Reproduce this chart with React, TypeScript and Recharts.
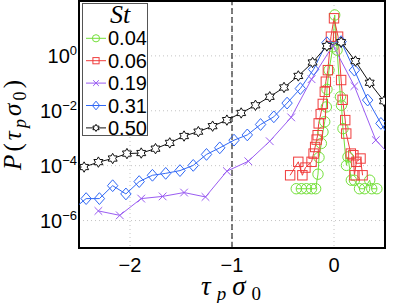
import React from 'react';
import {
  LineChart,
  Line,
  XAxis,
  YAxis,
  CartesianGrid,
  ReferenceLine,
  ReferenceArea,
  Legend
} from 'recharts';

// values as log10 P
const st004X = [-0.37, -0.32, -0.27, -0.22, -0.18, -0.157, -0.147, -0.124, -0.108, -0.091, -0.075, -0.069, -0.049, -0.01, 0.007, 0.03, 0.063, 0.073, 0.088, 0.122, 0.137, 0.17, 0.2, 0.25, 0.3, 0.35, 0.37, 0.42];
const st004Log = [-4.84, -4.84, -4.84, -4.84, -4.84, -4.31, -3.7, -3.19, -2.77, -2.4, -1.86, -1.22, -0.52, 0.33, 1.49, 0.21, -1.49, -1.8, -2.65, -3.99, -3.68, -4.53, -4.53, -4.84, -4.84, -4.53, -4.84, -4.84];

const st006X = [-0.43, -0.35, -0.31, -0.28, -0.22, -0.2, -0.185, -0.17, -0.16, -0.15, -0.13, -0.11, -0.09, -0.08, -0.06, -0.03, 0.0, 0.04, 0.07, 0.085, 0.11, 0.12, 0.165, 0.19, 0.2, 0.22, 0.26, 0.28];
const st006Log = [-4.35, -3.86, -4.35, -4.07, -3.86, -3.56, -3.32, -3.05, -2.89, -2.46, -2.12, -1.75, -1.31, -0.94, -0.52, 0.7, 1.37, 0.7, -0.88, -1.6, -2.34, -2.83, -3.56, -3.62, -4.35, -3.86, -3.74, -4.35];

const st019X = [-2.31, -2.1, -1.89, -1.68, -1.47, -1.26, -1.05, -0.84, -0.63, -0.42, -0.22, -0.01, 0.2, 0.41, 0.62];
const st019Log = [-5.65, -5.81, -5.2, -5.12, -4.98, -5.14, -4.2, -3.84, -3.11, -2.24, -0.85, 0.38, -1.1, -3.07, -3.9];

const st031X = [-2.56, -2.43, -2.3, -2.17, -2.04, -1.91, -1.78, -1.65, -1.51, -1.38, -1.25, -1.12, -0.98, -0.85, -0.72, -0.59, -0.46, -0.33, -0.2, -0.07, 0.07, 0.2, 0.33, 0.46, 0.59];
const st031Log = [-5.6, -5.2, -5.2, -4.73, -5.03, -4.58, -4.35, -4.28, -4.18, -3.99, -3.59, -3.35, -3.07, -2.88, -2.5, -2.22, -1.72, -1.19, -0.49, 0.48, 0.52, -0.52, -1.61, -2.46, -3.3];

const st050X = [-2.59, -2.45, -2.31, -2.17, -2.03, -1.89, -1.75, -1.61, -1.47, -1.33, -1.19, -1.05, -0.91, -0.77, -0.63, -0.49, -0.35, -0.21, -0.07, 0.07, 0.21, 0.35, 0.49];
const st050Log = [-4.2, -4.05, -3.87, -3.74, -3.56, -3.54, -3.38, -3.17, -2.92, -2.76, -2.56, -2.34, -2.08, -1.8, -1.49, -1.15, -0.73, -0.24, 0.36, 0.5, -0.19, -0.98, -1.65];

const xTicks = [-2, -1, 0];
const yTicks = [1e-6, 1e-4, 1e-2, 1];
const yExponents = ['\u22126', '\u22124', '\u22122', '0'];

const toPoints = (xs: number[], logs: number[]) =>
  xs.map((x, i) => ({ x, p: Math.pow(10, logs[i]) }));

const series = [
  { name: '0.04', color: '#74e03a', shape: 'circle', data: toPoints(st004X, st004Log) },
  { name: '0.06', color: '#f03c3c', shape: 'square', data: toPoints(st006X, st006Log) },
  { name: '0.19', color: '#9a5cf2', shape: 'cross', data: toPoints(st019X, st019Log) },
  { name: '0.31', color: '#3068f5', shape: 'diamond', data: toPoints(st031X, st031Log) },
  { name: '0.50', color: '#111111', shape: 'hexagram', data: toPoints(st050X, st050Log) }
];

const sans = '"Liberation Sans", Arial, Helvetica, sans-serif';
const serif = '"Liberation Serif", "DejaVu Serif", serif';

const Marker = ({ shape, cx, cy, color, s }: any) => {
  switch (shape) {
    case 'circle':
      return <circle cx={cx} cy={cy} r={s} fill="none" stroke={color} strokeWidth={1} />;
    case 'square':
      return <rect x={cx - s + 0.5} y={cy - s + 0.5} width={2 * s - 1} height={2 * s - 1} fill="none" stroke={color} strokeWidth={1} />;
    case 'cross': {
      const r = s * 0.8;
      return (
        <path
          d={`M${cx - r},${cy - r}L${cx + r},${cy + r}M${cx - r},${cy + r}L${cx + r},${cy - r}`}
          stroke={color}
          strokeWidth={1}
          fill="none"
        />
      );
    }
    case 'diamond':
      return (
        <path
          d={`M${cx},${cy - s - 0.7}L${cx + s},${cy}L${cx},${cy + s + 0.7}L${cx - s},${cy}Z`}
          fill="none"
          stroke={color}
          strokeWidth={1}
        />
      );
    default: {
      const pts: string[] = [];
      for (let i = 0; i < 12; i++) {
        const a = (-90 + i * 30) * Math.PI / 180;
        const r = i % 2 === 0 ? s : s / Math.sqrt(3);
        pts.push(`${(cx + r * Math.cos(a)).toFixed(2)},${(cy + r * Math.sin(a)).toFixed(2)}`);
      }
      return <polygon points={pts.join(' ')} fill="#fff" stroke={color} strokeWidth={1} />;
    }
  }
};

const makeDot = (shape: string, color: string) => (props: any) => {
  const { cx, cy, index } = props;
  const key = `${shape}-${index}`;
  if (cx == null || cy == null) return <g key={key} />;
  return <Marker key={key} shape={shape} cx={cx} cy={cy} color={color} s={shape === 'cross' ? 4.8 : 5.2} />;
};

const XTick = ({ x, y, payload }: any) => {
  const v = payload.value;
  return (
    <text x={x} y={y + 16} textAnchor="middle" fontSize={20} fontFamily={sans} fill="#000">
      {v < 0 ? `\u2212${Math.abs(v)}` : `${v}`}
    </text>
  );
};

const YTick = ({ x, y, payload }: any) => {
  const i = yTicks.findIndex((t) => Math.abs(Math.log10(t) - Math.log10(payload.value)) < 1e-6);
  return (
    <text x={x + 6} y={y + 7} textAnchor="end" fontSize={20} fontFamily={sans} fill="#000">
      10
      <tspan dy={-8} fontSize={13}>{yExponents[i]}</tspan>
    </text>
  );
};

const LegendBox = () => (
  <div style={{ width: 64, height: 131, border: '1px solid #555', background: '#fff' }}>
    <svg width={64} height={131} style={{ display: 'block', overflow: 'visible' }}>
      <text x={27} y={19} fontSize={26} fontStyle="italic" fontFamily={serif} fill="#000">
        St
      </text>
      {series.map((s, i) => {
        const cy = 34.3 + i * 22.4;
        return (
          <g key={s.name}>
            <line x1={3} x2={23} y1={cy} y2={cy} stroke={s.color} strokeWidth={1} />
            <Marker shape={s.shape} cx={13} cy={cy} color={s.color} s={3.6} />
            <text x={25} y={cy + 7} fontSize={20} fontFamily={sans} fill="#000">
              {s.name}
            </text>
          </g>
        );
      })}
    </svg>
  </div>
);

const XLabel = ({ viewBox }: any) => {
  const cx = viewBox.x + viewBox.width / 2 - 1;
  return (
    <text
      x={cx}
      y={295}
      textAnchor="middle"
      fontSize={27}
      fontStyle="italic"
      fontFamily={serif}
      fill="#000"
      textLength={60}
      lengthAdjust="spacing"
    >
      τ<tspan dy={5} fontSize={19}>p</tspan>
      <tspan dy={-5}>σ</tspan>
      <tspan dy={5} fontSize={19} fontStyle="normal">0</tspan>
    </text>
  );
};

const YLabel = () => (
  <text
    x={21}
    y={125}
    transform="rotate(-90, 21, 125)"
    textAnchor="middle"
    fontSize={25}
    fontStyle="italic"
    fontFamily={serif}
    fill="#000"
    textLength={90}
    lengthAdjust="spacing"
  >
    P<tspan fontStyle="normal">(</tspan>τ<tspan dy={5} fontSize={18}>p</tspan>
    <tspan dy={-5}>σ</tspan>
    <tspan dy={5} fontSize={18} fontStyle="normal">0</tspan>
    <tspan dy={-5} fontStyle="normal">)</tspan>
  </text>
);

const App: React.FC = () => {
  return (
    <div style={{ position: 'absolute', left: 0, top: 0, width: 395, height: 303, background: '#fff' }}>
      <LineChart width={395} height={303} margin={{ top: 1, right: 10, bottom: 0, left: 0 }}>
        <CartesianGrid stroke="#c4c4c4" strokeDasharray="1 3" />
        <XAxis
          type="number"
          dataKey="x"
          domain={[-2.5, 0.5]}
          ticks={xTicks}
          allowDataOverflow
          height={55}
          axisLine={false}
          tickLine={false}
          tick={<XTick />}
          label={<XLabel />}
        />
        <YAxis
          type="number"
          scale="log"
          domain={[1e-7, 100]}
          ticks={yTicks}
          allowDataOverflow
          width={79}
          axisLine={false}
          tickLine={false}
          tick={<YTick />}
          label={<YLabel />}
        />
        <ReferenceLine x={-1} stroke="#000" strokeWidth={1} strokeDasharray="6 3" />
        {series.map((s) => (
          <Line
            key={s.name}
            data={s.data}
            dataKey="p"
            name={s.name}
            type="linear"
            stroke={s.color}
            strokeWidth={1}
            dot={makeDot(s.shape, s.color)}
            activeDot={false}
            isAnimationActive={false}
          />
        ))}
        <ReferenceArea
          x1={-2.5}
          x2={0.5}
          y1={1e-7}
          y2={100}
          fill="none"
          stroke="#000"
          strokeWidth={2}
          ifOverflow="visible"
        />
        <Legend
          layout="vertical"
          align="center"
          verticalAlign="middle"
          content={<LegendBox />}
          wrapperStyle={{ left: 82, top: 3, width: 66, height: 133 }}
        />
      </LineChart>
    </div>
  );
};

export default App;
